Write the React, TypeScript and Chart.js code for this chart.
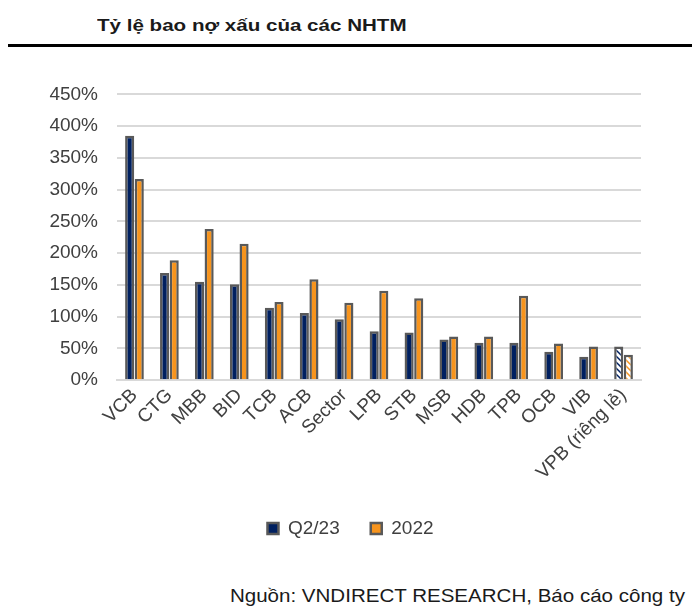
import React, { useEffect, useRef } from "react";
import { Chart, registerables } from "chart.js";

Chart.register(...registerables);

const categories = ["VCB", "CTG", "MBB", "BID", "TCB", "ACB", "Sector", "LPB", "STB", "MSB", "HDB", "TPB", "OCB", "VIB", "VPB (riêng lẻ)"];
const q223 = [385, 169, 155, 151, 114, 106, 96, 77, 75, 64, 59, 59, 45, 37, 53];
const y2022 = [317, 189, 238, 215, 123, 159, 122, 141, 129, 69, 69, 133, 58, 53, 40];
const seriesNames = ["Q2/23", "2022"];
const yTicks = [0, 50, 100, 150, 200, 250, 300, 350, 400, 450];

const NAVY = "#002060";
const ORANGE = "#f7941d";
const BORDER = "#595959";
const FONT = "'Liberation Sans', Arial, sans-serif";

function hatch(color: string): CanvasPattern | string {
  const c = document.createElement("canvas");
  c.width = 6;
  c.height = 6;
  const ctx = c.getContext("2d");
  if (!ctx) return color;
  ctx.fillStyle = "#ffffff";
  ctx.fillRect(0, 0, 6, 6);
  ctx.strokeStyle = color;
  ctx.lineWidth = 1.5;
  ctx.beginPath();
  ctx.moveTo(0, 0);
  ctx.lineTo(6, 6);
  ctx.moveTo(-3, 3);
  ctx.lineTo(3, 9);
  ctx.moveTo(3, -3);
  ctx.lineTo(9, 3);
  ctx.stroke();
  const p = ctx.createPattern(c, "repeat");
  return p || color;
}

const legendShift = {
  id: "legendShift",
  afterLayout(chart: any) {
    const lg = chart.legend;
    if (lg) {
      lg.left += 30;
      lg.right += 30;
    }
  },
};

export default function App() {
  const ref = useRef<HTMLCanvasElement | null>(null);

  useEffect(() => {
    document.body.style.margin = "0";
    const canvas = ref.current;
    if (!canvas) return;
    const last = categories.length - 1;
    const navyBg = categories.map((_, i) => (i === last ? hatch(NAVY) : NAVY));
    const orangeBg = categories.map((_, i) => (i === last ? hatch(ORANGE) : ORANGE));
    const chart = new Chart(canvas, {
      type: "bar",
      data: {
        labels: categories,
        datasets: [
          { label: seriesNames[0], data: q223, backgroundColor: navyBg as any, borderColor: BORDER, borderWidth: 2.5, borderSkipped: "bottom" },
          { label: seriesNames[1], data: y2022, backgroundColor: orangeBg as any, borderColor: BORDER, borderWidth: 2.5, borderSkipped: "bottom" },
        ],
      },
      plugins: [legendShift],
      options: {
        animation: false,
        responsive: false,
        maintainAspectRatio: false,
        layout: { padding: { left: 0, right: 59, top: 14, bottom: 8 } },
        datasets: { bar: { categoryPercentage: 0.55, barPercentage: 0.95 } },
        scales: {
          x: {
            grid: { display: false, drawTicks: false },
            border: { display: true, color: "#d9d9d9", width: 2 },
            ticks: {
              color: "#404040",
              font: { family: FONT, size: 19 },
              maxRotation: 45,
              minRotation: 45,
              autoSkip: false,
              padding: 4,
            },
          },
          y: {
            min: 0,
            max: 450,
            afterBuildTicks: (axis: any) => {
              axis.ticks = yTicks.map((v) => ({ value: v }));
            },
            afterFit: (axis: any) => {
              axis.width = 117;
            },
            grid: { color: "#d9d9d9", lineWidth: 2, drawTicks: false },
            border: { display: false },
            ticks: {
              color: "#404040",
              font: { family: FONT, size: 19 },
              padding: 19,
              callback: (v: any) => v + "%",
            },
          },
        },
        plugins: {
          tooltip: { enabled: false },
          legend: {
            position: "bottom",
            labels: {
              color: "#404040",
              font: { family: FONT, size: 19 },
              boxWidth: 11,
              boxHeight: 11,
              padding: 31,
            },
          },
        },
      },
    });
    return () => chart.destroy();
  }, []);

  return (
    <div style={{ position: "relative", width: 700, height: 615, background: "#fff", fontFamily: FONT, overflow: "hidden" }}>
      <div style={{ position: "absolute", left: 97, top: 16, fontSize: 17, fontWeight: "bold", color: "#1a1a1a", whiteSpace: "nowrap", transform: "scaleX(1.21)", transformOrigin: "left top" }}>
        Tỷ lệ bao nợ xấu của các NHTM
      </div>
      <div style={{ position: "absolute", left: 8, top: 44, width: 684, height: 3, background: "#000" }} />
      <canvas ref={ref} width={700} height={492} style={{ position: "absolute", left: 0, top: 64, width: 700, height: 492 }} />
      <div style={{ position: "absolute", right: 15, top: 585, fontSize: 18.5, color: "#1a1a1a", whiteSpace: "nowrap", transform: "scaleX(1.11)", transformOrigin: "right top" }}>
        Nguồn: VNDIRECT RESEARCH, Báo cáo công ty
      </div>
    </div>
  );
}
